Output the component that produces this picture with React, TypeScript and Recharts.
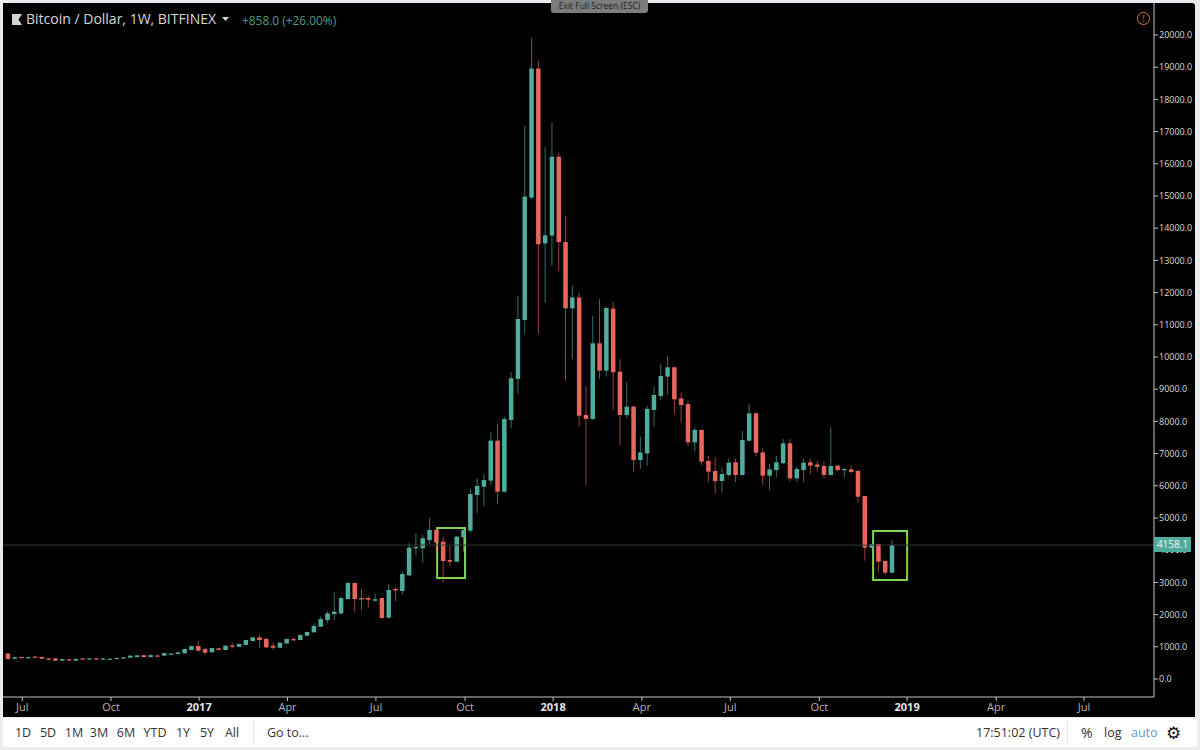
import { Bar, ComposedChart, ReferenceArea, ReferenceLine, XAxis, YAxis } from 'recharts';

const opens = [
  790, 630, 685, 650, 695, 685, 640, 640, 575, 615,
  570, 640, 610, 640, 600, 610, 625, 635, 660, 680,
  740, 680, 730, 725, 755, 775, 797, 900, 1025, 930,
  830, 950, 900, 1040, 1000, 1056, 1180, 1295, 1242, 1034,
  972, 1103, 1240, 1211, 1345, 1450, 1624, 1832, 2019, 2037,
  2485, 2982, 2516, 2516, 2432, 2516, 1904, 2795, 2733, 3218,
  4059, 4059, 4317, 4628, 4265, 3696, 3643, 4400, 4606, 5715,
  5973, 6160, 7402, 5817, 8045, 9318, 11150, 14950, 18960, 13530,
  13770, 16220, 13570, 11510, 11850, 8200, 8075, 10426, 9576, 11500,
  9544, 8200, 8458, 6802, 7006, 8355, 8790, 9390, 9680, 8716,
  8540, 7350, 7734, 6771, 6460, 6150, 6336, 6730, 6336, 7400,
  8250, 7035, 6315, 6490, 6700, 7320, 6230, 6490, 6730, 6662,
  6615, 6336, 6625, 6500, 6510, 6460, 5680, 4081, 4190, 3665,
  3300,
];
const highs = [
  810, 700, 695, 695, 710, 695, 650, 650, 625, 625,
  640, 650, 650, 650, 645, 640, 665, 680, 740, 750,
  760, 790, 750, 815, 800, 835, 940, 1025, 1180, 960,
  965, 970, 1040, 1118, 1095, 1215, 1300, 1367, 1290, 1127,
  1135, 1250, 1280, 1372, 1465, 1730, 1935, 2100, 2712, 2560,
  3030, 3000, 2795, 2587, 2662, 2530, 2950, 2848, 3340, 4215,
  4525, 4480, 4991, 4680, 4400, 4140, 4440, 4650, 5923, 6230,
  6367, 7650, 7920, 8150, 9525, 11900, 17176, 19900, 19200, 16514,
  17280, 16350, 14380, 12206, 12000, 9110, 11275, 11793, 11560, 11710,
  9940, 9215, 8490, 7526, 8480, 9080, 9784, 10030, 9700, 8900,
  8640, 7816, 7760, 6926, 6885, 6570, 6850, 6850, 7700, 8540,
  8300, 7160, 6678, 6926, 7454, 7454, 6595, 6850, 6850, 6780,
  6750, 7816, 6640, 6540, 6625, 6510, 5690, 4190, 4210, 3716,
  4317,
];
const lows = [
  610, 610, 650, 640, 655, 625, 590, 560, 565, 565,
  560, 605, 600, 595, 590, 600, 615, 625, 650, 670,
  670, 670, 690, 715, 745, 770, 790, 895, 850, 745,
  825, 890, 890, 950, 990, 1050, 1175, 972, 960, 900,
  965, 1095, 1180, 1205, 1340, 1440, 1615, 1730, 1832, 2000,
  2460, 2060, 2143, 2214, 2400, 1860, 1880, 2423, 2630, 3190,
  3851, 3612, 4193, 3950, 3003, 3510, 3620, 3950, 4560, 5147,
  5373, 6026, 5435, 5790, 7787, 8850, 10736, 14900, 10715, 11690,
  12827, 12650, 9265, 9940, 7840, 6026, 8050, 9318, 9390, 8355,
  7268, 8097, 6440, 6520, 6625, 7840, 8665, 8850, 8230, 7940,
  7236, 7060, 6646, 6128, 5763, 5794, 6290, 6110, 6320, 7380,
  6910, 6026, 5870, 6260, 6680, 6128, 6128, 6128, 6367, 6440,
  6230, 6330, 6440, 6260, 6390, 5476, 3675, 4060, 3302, 3230,
  3290,
];
const closes = [
  620, 675, 655, 680, 665, 630, 600, 570, 620, 575,
  625, 615, 640, 605, 635, 630, 655, 670, 725, 735,
  680, 740, 700, 805, 790, 825, 930, 1020, 880, 817,
  960, 905, 1034, 1000, 1087, 1211, 1295, 1211, 983, 972,
  1127, 1242, 1220, 1367, 1460, 1646, 1863, 2040, 2090, 2516,
  2982, 2485, 2472, 2465, 2478, 1895, 2764, 2750, 3261, 4078,
  4100, 4370, 4628, 4233, 3665, 3643, 4420, 4628, 5746, 5994,
  6180, 7402, 5817, 8075, 9340, 11181, 14980, 18960, 13500, 13780,
  16220, 13570, 11512, 11850, 8178, 8075, 10426, 9576, 11523, 9526,
  8200, 8458, 6802, 7035, 8386, 8820, 9411, 9680, 8685, 8510,
  7350, 7734, 6750, 6440, 6150, 6367, 6718, 6336, 7423, 8250,
  7030, 6315, 6510, 6730, 7320, 6230, 6522, 6718, 6625, 6590,
  6336, 6615, 6490, 6522, 6430, 5660, 4081, 4178, 3643, 3302,
  4158.1,
];

const priceTicks = [
  0, 1000, 2000, 3000, 4000, 5000, 6000, 7000, 8000, 9000, 10000,
  11000, 12000, 13000, 14000, 15000, 16000, 17000, 18000, 19000, 20000,
];
const timeTicks = [2.1, 15.15, 28.1, 41.1, 54.1, 67.2, 80.15, 93.2, 106.2, 119.3, 132.2, 145.3, 158.2];
const timeLabels = ['Jul', 'Oct', '2017', 'Apr', 'Jul', 'Oct', '2018', 'Apr', 'Jul', 'Oct', '2019', 'Apr', 'Jul'];
const rangeButtons = ['1D', '5D', '1M', '3M', '6M', 'YTD', '1Y', '5Y', 'All'];
const rangeButtonCenters = [23, 48, 74, 99, 126, 155, 183, 207, 232];
const lastPrice = 4158.1;
// week and price bounds of the two green boxes
const boxWeeks = [[63.1, 67.2], [127.2, 132.2]];
const boxPrices = [[3137, 4689], [3075, 4596]];

const UP = '#50ac9c';
const DOWN = '#e8675c';
const FONT = '"Open Sans", sans-serif';

type Candle = { week: number; open: number; high: number; low: number; close: number; range: number[] };

const candles: Candle[] = opens.map((open, i) => ({
  week: i,
  open,
  high: highs[i],
  low: lows[i],
  close: closes[i],
  range: [lows[i], highs[i]],
}));

function CandleShape({ x, y, width, height, payload }: any) {
  const { open, high, low, close } = payload as Candle;
  const perUnit = height / (high - low);
  const top = y + (high - Math.max(open, close)) * perUnit;
  const bodyHeight = Math.max(Math.abs(open - close) * perUnit, 1.2);
  const color = close >= open ? UP : DOWN;
  return (
    <g>
      <line x1={x + width / 2} x2={x + width / 2} y1={y} y2={y + height} stroke={color} strokeOpacity={0.65} strokeWidth={1} />
      <rect x={x} y={top} width={width} height={bodyHeight} fill={color} />
    </g>
  );
}

function TimeTick({ x, y, payload, index }: any) {
  const label = timeLabels[index] ?? timeLabels[timeTicks.indexOf(payload.value)];
  const isYear = label.length === 4;
  return (
    <text x={x} y={y + 8} textAnchor="middle" fontFamily={FONT} fontSize={11} fontWeight={isYear ? 700 : 400} fill={isYear ? '#e4e4e4' : '#b4b4b4'}>
      {label}
    </text>
  );
}

function Toolbar() {
  const label = { position: 'absolute', top: 724, fontFamily: FONT, fontSize: 12.5, color: '#333', lineHeight: '18px' } as const;
  return (
    <div style={{ position: 'absolute', left: 3, top: 718, width: 1194, height: 29, background: '#fff', borderRadius: '0 0 3px 3px' }}>
      <div style={{ position: 'absolute', left: 250, top: 2, width: 1, height: 25, background: '#e6e8ea' }} />
      <div style={{ position: 'absolute', left: 1064, top: 2, width: 1, height: 25, background: '#e6e8ea' }} />
      <div style={{ position: 'absolute', left: -3, top: -718, width: 1200, height: 750 }}>
        {rangeButtons.map((name, i) => (
          <span key={name} style={{ ...label, left: rangeButtonCenters[i], transform: 'translateX(-50%)' }}>{name}</span>
        ))}
        <span style={{ ...label, left: 267 }}>Go to...</span>
        <span style={{ ...label, left: 976 }}>17:51:02 (UTC)</span>
        <span style={{ ...label, left: 1081, fontSize: 14 }}>%</span>
        <span style={{ ...label, left: 1104 }}>log</span>
        <span style={{ ...label, left: 1131, color: '#5b9bd5' }}>auto</span>
        <span style={{ ...label, left: 1166, fontSize: 17, color: '#111', fontFamily: '"DejaVu Sans"' }}>⚙</span>
      </div>
    </div>
  );
}

function Header() {
  return (
    <>
      <svg style={{ position: 'absolute', left: 12, top: 14 }} width={10} height={11}>
        <path d="M0 0H10L6.5 5.5L10 11H0Z" fill="#d4d4d4" />
      </svg>
      <span style={{ position: 'absolute', left: 26, top: 9, fontFamily: FONT, fontSize: 14, color: '#d8d8d8', lineHeight: '20px' }}>
        Bitcoin / Dollar, 1W, BITFINEX
      </span>
      <svg style={{ position: 'absolute', left: 222, top: 17 }} width={7} height={4}>
        <path d="M0 0H7L3.5 4Z" fill="#d8d8d8" />
      </svg>
      <span style={{ position: 'absolute', left: 242, top: 10, fontFamily: FONT, fontSize: 11.9, color: '#4f9a8c', lineHeight: '20px' }}>
        +858.0 (+26.00%)
      </span>
      <div style={{ position: 'absolute', left: 551, top: 0, width: 97, height: 13, background: '#7c7c7c', borderRadius: '0 0 3px 3px', fontFamily: FONT, fontSize: 8.5, color: '#222', textAlign: 'center', lineHeight: '12px' }}>
        Exit Full Screen (ESC)
      </div>
      <div style={{ position: 'absolute', left: 1137, top: 12, width: 11, height: 11, border: '1px solid #e07a30', borderRadius: '50%', fontFamily: FONT, fontSize: 9, color: '#e07a30', textAlign: 'center', lineHeight: '11px' }}>
        !
      </div>
      {/* last price tag sits over the 4000 axis label, as on the original */}
      <div style={{ position: 'absolute', left: 1154, top: 537, width: 37, height: 15, background: UP, fontFamily: FONT, fontSize: 10, color: '#f2f2f2', textAlign: 'center', lineHeight: '15px' }}>
        {lastPrice.toFixed(1)}
      </div>
    </>
  );
}

export default function App() {
  return (
    <div style={{ position: 'absolute', left: 0, top: 0, width: 1200, height: 750, background: '#e9edf0', overflow: 'hidden' }}>
      <div style={{ position: 'absolute', left: 3, top: 3, width: 1192, height: 714, background: '#000', borderRadius: '0 3px 0 0' }} />
      <div style={{ position: 'absolute', left: 0, top: 0 }}>
        <ComposedChart width={1200} height={750} data={candles} margin={{ top: 3, right: 0, bottom: 0, left: 3 }}>
          <XAxis
            dataKey="week"
            type="number"
            domain={[-0.735, 168.5]}
            ticks={timeTicks}
            interval={0}
            height={53}
            stroke="#c4c4c4"
            tickSize={4}
            tick={<TimeTick />}
          />
          <YAxis
            orientation="right"
            type="number"
            domain={[-559, 20994]}
            ticks={priceTicks}
            interval={0}
            width={46}
            stroke="#c4c4c4"
            tickSize={4}
            tickMargin={1}
            tickFormatter={(v: number) => v.toFixed(1)}
            tick={{ fontFamily: FONT, fontSize: 9, fill: '#dcdcdc' }}
          />
          <ReferenceLine y={lastPrice} stroke="#3a3a3a" />
          <Bar dataKey="range" barSize={4.5} shape={<CandleShape />} isAnimationActive={false} />
          {boxWeeks.map((weeks, i) => (
            <ReferenceArea
              key={i}
              x1={weeks[0]}
              x2={weeks[1]}
              y1={boxPrices[i][0]}
              y2={boxPrices[i][1]}
              fill="none"
              stroke="#7fd64a"
              strokeWidth={2}
            />
          ))}
        </ComposedChart>
      </div>
      <Header />
      <Toolbar />
    </div>
  );
}
